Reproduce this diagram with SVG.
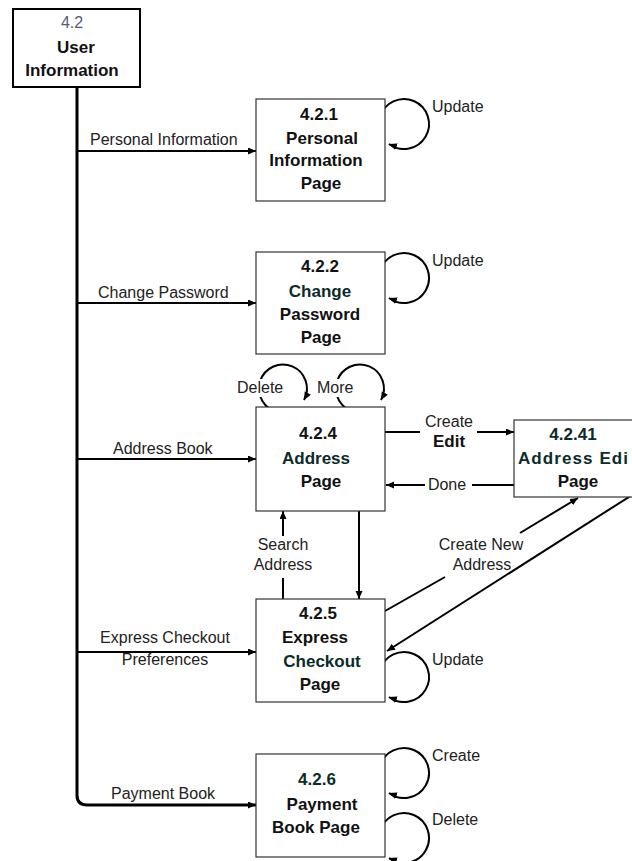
<svg xmlns="http://www.w3.org/2000/svg" width="632" height="861" viewBox="0 0 632 861">
  <defs>
    <marker id="arrow" markerUnits="userSpaceOnUse" markerWidth="9" markerHeight="8" refX="8" refY="3.5" orient="auto">
      <path d="M0,0 L8,3.5 L0,7 z" fill="#000"/>
    </marker>
    <marker id="arrowLeft" markerUnits="userSpaceOnUse" markerWidth="9" markerHeight="8" refX="8" refY="3.5" orient="200">
      <path d="M0,0 L8,3.5 L0,7 z" fill="#000"/>
    </marker>
    <style>
      .box { fill: #fff; stroke: #333; stroke-width: 1.2; }
      .main { fill: #fff; stroke: #000; stroke-width: 2; }
      .title { font-family: "Liberation Sans", Arial, sans-serif; font-size: 17px; font-weight: bold; fill: #111; text-anchor: middle; }
      .teal { fill: #0c2b2b; }
      .num { font-family: "Liberation Sans", Arial, sans-serif; font-size: 16px; fill: #5a5a72; text-anchor: middle; }
      .lbl { font-family: "Liberation Sans", Arial, sans-serif; font-size: 16px; fill: #222; }
      .mid { text-anchor: middle; }
      .flow { fill: none; stroke: #000; stroke-width: 2; }
      .trunk { fill: none; stroke: #000; stroke-width: 3; }
      .loop { fill: none; stroke: #000; stroke-width: 2; }
      .mask { fill: #fff; }
    </style>
  </defs>

  <!-- data flows -->
  <g id="connectors">
    <path class="trunk" d="M77,87 V795 Q77,805 87,805 H256" marker-end="url(#arrow)"/>
    <path class="flow" d="M77,151 H256" marker-end="url(#arrow)"/>
    <path class="flow" d="M77,303 H256" marker-end="url(#arrow)"/>
    <path class="flow" d="M77,459 H256" marker-end="url(#arrow)"/>
    <path class="flow" d="M77,652 H256" marker-end="url(#arrow)"/>

    <!-- address page to edit page and back -->
    <path class="flow" d="M385,432 H420"/>
    <path class="flow" d="M477,432 H514" marker-end="url(#arrow)"/>
    <path class="flow" d="M514,485 H472"/>
    <path class="flow" d="M425,485 H386" marker-end="url(#arrow)"/>

    <!-- address page / express checkout -->
    <path class="flow" d="M359,511 V599" marker-end="url(#arrow)"/>
    <path class="flow" d="M283,599 V578"/>
    <path class="flow" d="M283,536 V511" marker-end="url(#arrow)"/>

    <!-- express checkout / edit page -->
    <path class="flow" d="M385,611 L445,577"/>
    <path class="flow" d="M520,533 L578,498" marker-end="url(#arrow)"/>
    <path class="flow" d="M632,495 L387,651" marker-end="url(#arrow)"/>

    <!-- self loops -->
    <path class="loop" d="M380,117 A25,25 0 1,1 389,144" marker-end="url(#arrowLeft)"/>
    <path class="loop" d="M380,271 A25,25 0 1,1 389,298" marker-end="url(#arrowLeft)"/>
    <path class="loop" d="M278,412 A24,24 0 1,1 304,400" marker-end="url(#arrow)"/>
    <path class="loop" d="M355,412 A24,24 0 1,1 381,400" marker-end="url(#arrow)"/>
    <path class="loop" d="M380,670 A25,25 0 1,1 389,697" marker-end="url(#arrowLeft)"/>
    <path class="loop" d="M380,766 A25,25 0 1,1 389,793" marker-end="url(#arrowLeft)"/>
    <path class="loop" d="M380,831 A25,25 0 1,1 389,858" marker-end="url(#arrowLeft)"/>
  </g>

  <!-- flow labels -->
  <g id="labels">
    <text class="lbl" x="90" y="145">Personal Information</text>
    <text class="lbl" x="98" y="298">Change Password</text>
    <text class="lbl" x="113" y="454">Address Book</text>
    <text class="lbl mid" x="165" y="643">Express Checkout</text>
    <text class="lbl mid" x="165" y="665">Preferences</text>
    <text class="lbl" x="111" y="799">Payment Book</text>
    <text class="lbl" x="432" y="112">Update</text>
    <text class="lbl" x="432" y="266">Update</text>
    <text class="lbl" x="432" y="665">Update</text>
    <text class="lbl" x="432" y="761">Create</text>
    <text class="lbl" x="432" y="825">Delete</text>
    <rect class="mask" x="236" y="379" width="50" height="18"/>
    <text class="lbl" x="237" y="393">Delete</text>
    <rect class="mask" x="315" y="379" width="40" height="18"/>
    <text class="lbl" x="317" y="393">More</text>
    <text class="lbl mid" x="449" y="427">Create</text>
    <text class="title" x="449" y="447">Edit</text>
    <text class="lbl mid" x="447" y="490">Done</text>
    <text class="lbl mid" x="283" y="550">Search</text>
    <text class="lbl mid" x="283" y="570">Address</text>
    <text class="lbl mid" x="481" y="550">Create New</text>
    <text class="lbl mid" x="482" y="570">Address</text>
  </g>

  <g id="n4_2">
    <rect class="main" x="13" y="9" width="127" height="78"/>
    <text class="num" x="72" y="28">4.2</text>
    <text class="title" x="76" y="53">User</text>
    <text class="title" x="72" y="76">Information</text>
  </g>

  <g id="n4_2_1">
    <rect class="box" x="256" y="99" width="129" height="102"/>
    <text class="title" x="319" y="120">4.2.1</text>
    <text class="title" x="322" y="144">Personal</text>
    <text class="title" x="316" y="166">Information</text>
    <text class="title" x="321" y="189">Page</text>
  </g>

  <g id="n4_2_2">
    <rect class="box" x="256" y="252" width="129" height="102"/>
    <text class="title" x="320" y="272">4.2.2</text>
    <text class="title teal" x="320" y="297">Change</text>
    <text class="title" x="320" y="320">Password</text>
    <text class="title" x="321" y="343">Page</text>
  </g>

  <g id="n4_2_4">
    <rect class="box" x="256" y="407" width="129" height="104"/>
    <text class="title" x="318" y="439">4.2.4</text>
    <text class="title teal" x="316" y="464">Address</text>
    <text class="title" x="321" y="487">Page</text>
  </g>

  <g id="n4_2_41">
    <rect class="box" x="514" y="420" width="130" height="77"/>
    <text class="title teal" x="573" y="440">4.2.41</text>
    <text class="title teal" x="518" y="464" style="text-anchor:start" textLength="110" lengthAdjust="spacing">Address Edi</text>
    <text class="title" x="578" y="487">Page</text>
  </g>

  <g id="n4_2_5">
    <rect class="box" x="256" y="599" width="129" height="103"/>
    <text class="title" x="318" y="619">4.2.5</text>
    <text class="title" x="315" y="643">Express</text>
    <text class="title teal" x="322" y="667">Checkout</text>
    <text class="title" x="320" y="690">Page</text>
  </g>

  <g id="n4_2_6">
    <rect class="box" x="256" y="754" width="129" height="103"/>
    <text class="title teal" x="317" y="785">4.2.6</text>
    <text class="title" x="322" y="810">Payment</text>
    <text class="title" x="316" y="833">Book Page</text>
  </g>
</svg>
